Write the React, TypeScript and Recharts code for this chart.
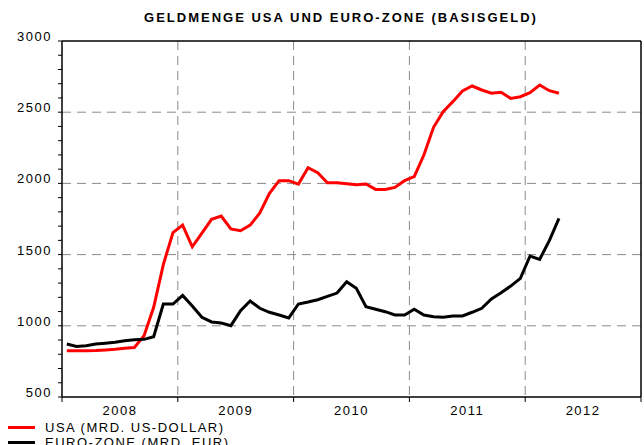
import React from "react";
import {
  LineChart, Line, XAxis, YAxis, CartesianGrid, ReferenceLine,
} from "recharts";

// monthly values Jan 2008 .. Apr 2012 (Mrd.)
const months = [
  "2008-01", "2008-02", "2008-03", "2008-04", "2008-05", "2008-06", "2008-07", "2008-08", "2008-09", "2008-10", "2008-11", "2008-12",
  "2009-01", "2009-02", "2009-03", "2009-04", "2009-05", "2009-06", "2009-07", "2009-08", "2009-09", "2009-10", "2009-11", "2009-12",
  "2010-01", "2010-02", "2010-03", "2010-04", "2010-05", "2010-06", "2010-07", "2010-08", "2010-09", "2010-10", "2010-11", "2010-12",
  "2011-01", "2011-02", "2011-03", "2011-04", "2011-05", "2011-06", "2011-07", "2011-08", "2011-09", "2011-10", "2011-11", "2011-12",
  "2012-01", "2012-02", "2012-03", "2012-04",
];

const usa = [
  825, 825, 825, 826, 830, 835, 842, 848, 930, 1130, 1430, 1655,
  1707, 1555, 1650, 1748, 1771, 1680, 1668, 1707, 1792, 1930, 2019, 2019,
  1995, 2110, 2075, 2005, 2005, 1998, 1990, 1996, 1958, 1958, 1972, 2019,
  2047, 2199, 2394, 2504, 2574, 2649, 2684, 2656, 2633, 2640, 2597, 2609,
  2637, 2691, 2651, 2633,
];

const euro = [
  872, 855, 860, 872, 878, 885, 895, 902, 905, 923, 1153, 1153,
  1213, 1139, 1060, 1027, 1020, 1001, 1106, 1174, 1123, 1095, 1076, 1055,
  1153, 1167, 1183, 1207, 1230, 1310, 1263, 1134, 1116, 1099, 1076, 1076,
  1116, 1076, 1064, 1060, 1069, 1069, 1095, 1123, 1188, 1232, 1279, 1333,
  1490, 1467, 1598, 1755,
];

const yearTicks = [2008, 2009, 2010, 2011, 2012, 2013];
const yLabels = [500, 1000, 1500, 2000, 2500, 3000];
const yMinor = [
  500, 600, 700, 800, 900, 1000, 1100, 1200, 1300, 1400, 1500, 1600, 1700,
  1800, 1900, 2000, 2100, 2200, 2300, 2400, 2500, 2600, 2700, 2800, 2900, 3000,
];

const data = months.map((m, i) => {
  const [y, mo] = m.split("-").map(Number);
  return { t: y + (mo - 0.5) / 12, usa: usa[i], euro: euro[i] };
});

const FONT = "'Liberation Sans', Arial, sans-serif";
const HALF_YEAR = 57.9;

function YearTick({ x, y, payload }: any) {
  if (payload.value === 2013) return null;
  return (
    <text x={x + HALF_YEAR} y={y + 11} textAnchor="middle" fontFamily={FONT}
      fontSize={13} letterSpacing={1.5} fill="#000">
      {payload.value}
    </text>
  );
}

function ValueTick({ x, y, payload }: any) {
  const major = yLabels.includes(payload.value);
  return (
    <g>
      <line x1={x - 4} x2={x} y1={y} y2={y} stroke="#000" strokeWidth={1} />
      {major && (
        <text x={x - 10} y={y} textAnchor="end" fontFamily={FONT}
          fontSize={13} letterSpacing={1.5} fill="#000">
          {payload.value}
        </text>
      )}
    </g>
  );
}

export default function App() {
  return (
    <div style={{ position: "absolute", left: 0, top: 0, width: 644, height: 445, overflow: "hidden", background: "#fff" }}>
      <div style={{
        position: "absolute", left: 0, width: 682, top: 10, textAlign: "center",
        fontFamily: FONT, fontWeight: "bold", fontSize: 13, letterSpacing: 2, lineHeight: "16px",
      }}>
        GELDMENGE USA UND EURO-ZONE (BASISGELD)
      </div>
      <LineChart width={644} height={445} data={data}
        margin={{ top: 41, right: 3, left: 0, bottom: 0 }}>
        <CartesianGrid stroke="#8a8a8a" strokeDasharray="9 6"
          horizontalValues={[1000, 1500, 2000, 2500]}
          verticalValues={[2009, 2010, 2011, 2012]} />
        <XAxis dataKey="t" type="number" domain={[2008, 2013]} ticks={yearTicks}
          interval={0} height={48} tick={<YearTick />}
          axisLine={{ stroke: "#000", strokeWidth: 1.5 }}
          tickLine={{ stroke: "#000" }} tickSize={5} tickMargin={2} />
        <YAxis type="number" domain={[500, 3000]} ticks={yMinor} interval={0}
          width={62} tick={<ValueTick />} tickLine={false} tickSize={0} tickMargin={0}
          axisLine={{ stroke: "#000", strokeWidth: 1.5 }} />
        <ReferenceLine y={3000} stroke="#000" strokeWidth={1.5} />
        <ReferenceLine x={2013} stroke="#000" strokeWidth={1.5} />
        <Line type="linear" dataKey="usa" stroke="#ff0000" strokeWidth={3}
          dot={false} isAnimationActive={false} />
        <Line type="linear" dataKey="euro" stroke="#000" strokeWidth={3}
          dot={false} isAnimationActive={false} />
      </LineChart>
      <div style={{ position: "absolute", left: 8, top: 420, fontFamily: FONT, fontSize: 13, letterSpacing: 1.5 }}>
        <div style={{ display: "flex", alignItems: "center", height: 15 }}>
          <span style={{ display: "inline-block", width: 27, height: 3, background: "#ff0000", marginRight: 10 }} />
          USA (MRD. US-DOLLAR)
        </div>
        <div style={{ display: "flex", alignItems: "center", height: 15 }}>
          <span style={{ display: "inline-block", width: 27, height: 3, background: "#000", marginRight: 10 }} />
          EURO-ZONE (MRD. EUR)
        </div>
      </div>
    </div>
  );
}
